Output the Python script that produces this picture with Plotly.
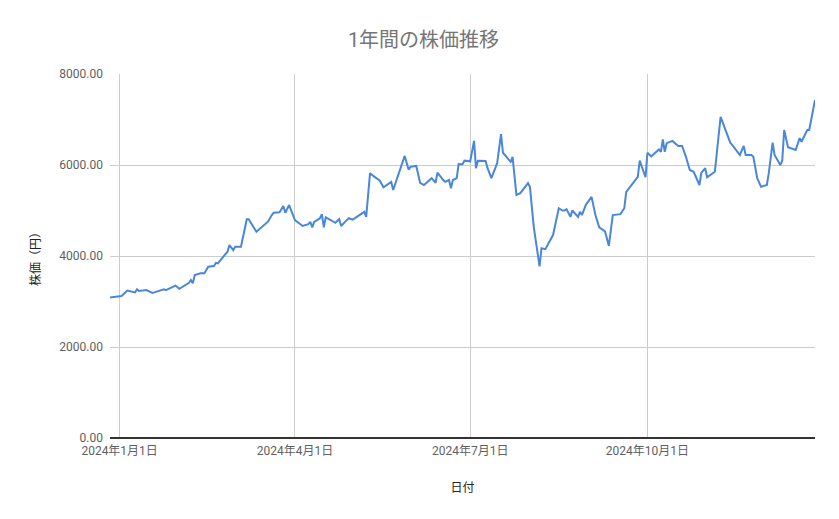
import plotly.graph_objects as go

# 日付と終値（チャートから読み取り）
dates = [
    "2023-12-27", "2024-01-02", "2024-01-05", "2024-01-09", "2024-01-10", "2024-01-11",
    "2024-01-15", "2024-01-18", "2024-01-19", "2024-01-22", "2024-01-24", "2024-01-25",
    "2024-01-27", "2024-01-30", "2024-02-01", "2024-02-03", "2024-02-06", "2024-02-07",
    "2024-02-08", "2024-02-09", "2024-02-12", "2024-02-14", "2024-02-16", "2024-02-19",
    "2024-02-20", "2024-02-21", "2024-02-23", "2024-02-26", "2024-02-27", "2024-02-29",
    "2024-03-01", "2024-03-04", "2024-03-07", "2024-03-08", "2024-03-12", "2024-03-18",
    "2024-03-20", "2024-03-21", "2024-03-24", "2024-03-26", "2024-03-27", "2024-03-29",
    "2024-04-01", "2024-04-05", "2024-04-08", "2024-04-09", "2024-04-10", "2024-04-11",
    "2024-04-14", "2024-04-15", "2024-04-16", "2024-04-17", "2024-04-20", "2024-04-22",
    "2024-04-24", "2024-04-25", "2024-04-27", "2024-04-29", "2024-05-01", "2024-05-04",
    "2024-05-06", "2024-05-07", "2024-05-08", "2024-05-10", "2024-05-12", "2024-05-15",
    "2024-05-17", "2024-05-21", "2024-05-22", "2024-05-28", "2024-05-30", "2024-05-31",
    "2024-06-03", "2024-06-05", "2024-06-07", "2024-06-11", "2024-06-13", "2024-06-14",
    "2024-06-17", "2024-06-18", "2024-06-20", "2024-06-21", "2024-06-22", "2024-06-24",
    "2024-06-25", "2024-06-27", "2024-06-28", "2024-07-01", "2024-07-03", "2024-07-04",
    "2024-07-05", "2024-07-09", "2024-07-10", "2024-07-12", "2024-07-15", "2024-07-17",
    "2024-07-18", "2024-07-22", "2024-07-23", "2024-07-25", "2024-07-27", "2024-07-31",
    "2024-08-01", "2024-08-03", "2024-08-06", "2024-08-07", "2024-08-09", "2024-08-13",
    "2024-08-16", "2024-08-18", "2024-08-19", "2024-08-20", "2024-08-22", "2024-08-23",
    "2024-08-26", "2024-08-27", "2024-08-28", "2024-08-30", "2024-09-02", "2024-09-04",
    "2024-09-06", "2024-09-09", "2024-09-11", "2024-09-13", "2024-09-17", "2024-09-19",
    "2024-09-20", "2024-09-24", "2024-09-26", "2024-09-27", "2024-09-30", "2024-10-01",
    "2024-10-03", "2024-10-07", "2024-10-08", "2024-10-09", "2024-10-10", "2024-10-11",
    "2024-10-14", "2024-10-17", "2024-10-19", "2024-10-21", "2024-10-23", "2024-10-25",
    "2024-10-28", "2024-10-29", "2024-10-31", "2024-11-01", "2024-11-05", "2024-11-08",
    "2024-11-13", "2024-11-14", "2024-11-18", "2024-11-20", "2024-11-21", "2024-11-24",
    "2024-11-25", "2024-11-27", "2024-11-29", "2024-12-02", "2024-12-03", "2024-12-05",
    "2024-12-06", "2024-12-09", "2024-12-10", "2024-12-11", "2024-12-13", "2024-12-17",
    "2024-12-19", "2024-12-20", "2024-12-23", "2024-12-24", "2024-12-27",
]
prices = [
    3090, 3120, 3240, 3200, 3270, 3230,
    3250, 3190, 3200, 3250, 3270, 3250,
    3290, 3350, 3280, 3340, 3410, 3470,
    3400, 3580, 3620, 3620, 3765, 3780,
    3850, 3840, 3950, 4095, 4240, 4130,
    4205, 4205, 4807, 4807, 4535, 4754,
    4900, 4950, 4960, 5100, 4950, 5120,
    4790, 4660, 4700, 4750, 4630, 4750,
    4830, 4920, 4630, 4850, 4780, 4730,
    4810, 4660, 4750, 4830, 4800, 4880,
    4940, 4970, 4860, 5820, 5750, 5660,
    5510, 5630, 5450, 6200, 5900, 5960,
    5980, 5610, 5560, 5710, 5610, 5830,
    5670, 5630, 5670, 5490, 5670, 5710,
    6020, 6015, 6095, 6080, 6530, 5930,
    6095, 6090, 5930, 5710, 6040, 6680,
    6270, 6070, 6180, 5340, 5380, 5600,
    5520, 4640, 3770, 4170, 4150, 4460,
    5050, 5000, 5000, 5030, 4860, 5000,
    4860, 4970, 4900, 5120, 5300, 4900,
    4630, 4540, 4220, 4900, 4920, 5050,
    5410, 5630, 5740, 6095, 5730, 6270,
    6190, 6340, 6290, 6560, 6290, 6480,
    6530, 6420, 6420, 6180, 5890, 5850,
    5560, 5830, 5930, 5730, 5850, 7060,
    6490, 6440, 6220, 6420, 6220, 6220,
    6180, 5710, 5520, 5560, 5820, 6490,
    6220, 6000, 6095, 6770, 6390, 6330,
    6590, 6510, 6770, 6770, 7430,
]

tick_dates = ["2024-01-01", "2024-04-01", "2024-07-01", "2024-10-01"]
tick_labels = ["2024年1月1日", "2024年4月1日", "2024年7月1日", "2024年10月1日"]
y_ticks = [0, 2000, 4000, 6000, 8000]

fontName = "Roboto, 'Noto Sans CJK JP', sans-serif"

fig = go.Figure(
    data=[
        go.Scatter(
            x=dates,
            y=prices,
            mode="lines",
            line=dict(color="#4a86d9", width=2),
            showlegend=False,
        )
    ]
)

# page body has an 8px margin, so the figure is a bit smaller than the window
fig.update_layout(
    width=831,
    height=511,
    margin=dict(l=102, r=24, t=66, b=81),
    paper_bgcolor="white",
    plot_bgcolor="white",
    font=dict(family=fontName, size=12, color="#5f5f5f"),
    title=dict(
        text="1年間の株価推移",
        x=0.5,
        xanchor="center",
        y=0.937,
        yanchor="middle",
        font=dict(family=fontName, size=20, color="#757575"),
    ),
)

fig.update_xaxes(
    range=[dates[0], dates[-1]],
    tickvals=tick_dates,
    ticktext=tick_labels,
    showgrid=True,
    gridcolor="#cccccc",
    gridwidth=1,
    showline=False,
    zeroline=False,
    ticks="",
    ticklabelstandoff=4,
    tickfont=dict(size=12, color="#5f5f5f"),
    title=dict(text="日付", font=dict(size=12, color="#222222"), standoff=26),
)

fig.update_yaxes(
    range=[0, 8000],
    tickvals=y_ticks,
    tickformat=".2f",
    showgrid=True,
    gridcolor="#cccccc",
    gridwidth=1,
    zeroline=True,
    zerolinecolor="#333333",
    zerolinewidth=1.5,
    ticks="",
    ticklabelstandoff=6,
    tickfont=dict(size=12, color="#5f5f5f"),
    title=dict(text="株価（円）", font=dict(size=12, color="#222222"), standoff=16),
)

fig.write_html("out.html")
